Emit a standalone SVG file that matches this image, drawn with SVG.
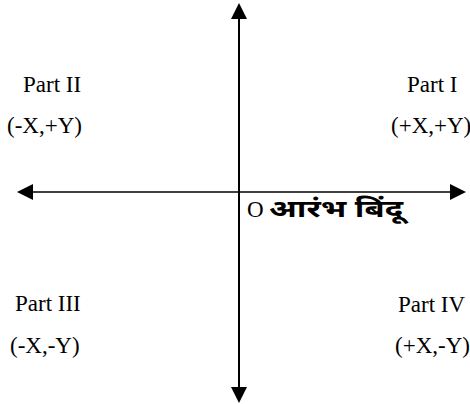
<svg xmlns="http://www.w3.org/2000/svg" width="470" height="404" viewBox="0 0 470 404">
<style>
.lbl{font-family:"Liberation Serif","Times New Roman",serif;font-size:23px;fill:#000}
.deva{font-family:"Noto Sans Devanagari","Noto Sans","Lohit Devanagari","Noto Sans CJK SC",sans-serif;font-weight:bold;font-size:24px;fill:#000}
.axis{stroke:#000;fill:none}
</style>
<defs>
<marker id="ah" markerUnits="userSpaceOnUse" markerWidth="16" markerHeight="16" refX="0" refY="8" orient="auto" viewBox="0 0 16 16">
<path d="M0,0 L16,8 L0,16 Z" fill="#000"/>
</marker>
</defs>
<rect width="470" height="404" fill="#fff"/>
<g id="connectors">
<line class="axis" x1="239" y1="388" x2="239" y2="19" stroke-width="2" marker-end="url(#ah)"/>
<line class="axis" x1="239" y1="192" x2="239" y2="387" stroke-width="2" marker-end="url(#ah)"/>
<line class="axis" x1="239" y1="192" x2="450" y2="192" stroke-width="1.6" marker-end="url(#ah)"/>
<line class="axis" x1="239" y1="192" x2="33" y2="192" stroke-width="1.6" marker-end="url(#ah)"/>
</g>
<g id="part1"><text class="lbl" x="407" y="92">Part I</text><text class="lbl" x="391" y="133">(+X,+Y)</text></g>
<g id="part2"><text class="lbl" x="23" y="92">Part II</text><text class="lbl" x="7" y="133">(-X,+Y)</text></g>
<g id="part3"><text class="lbl" x="15" y="311">Part III</text><text class="lbl" x="10" y="353">(-X,-Y)</text></g>
<g id="part4"><text class="lbl" x="398" y="312">Part IV</text><text class="lbl" x="395" y="353">(+X,-Y)</text></g>
<g id="origin"><text class="lbl" x="247" y="217">O</text><text class="deva" x="269" y="217" textLength="134" lengthAdjust="spacingAndGlyphs">आरंभ बिंदू</text></g>
</svg>
